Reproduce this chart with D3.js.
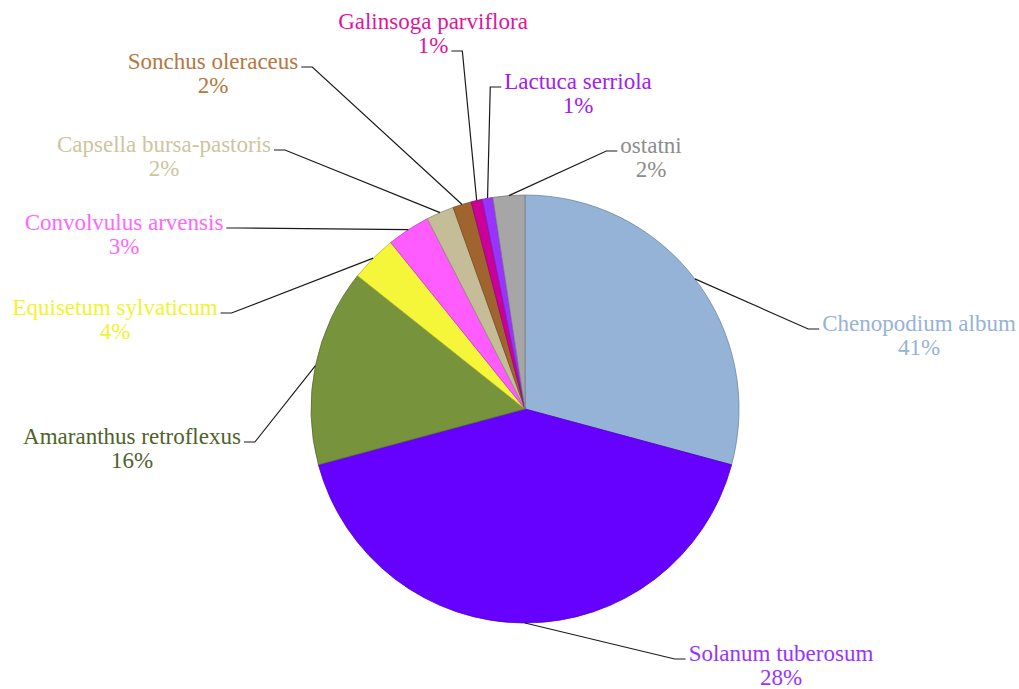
<!DOCTYPE html>
<meta charset="utf-8">
<title>Weeds pie</title>
<style>
    body { margin: 0; background: #fff; }
    svg { display: block; }
    .labels text {
        font-family: "Liberation Serif", "Times New Roman", serif;
        font-size: 23px;
        text-anchor: middle;
    }
    .leaders path {
        fill: none;
        stroke: #1a1a1a;
        stroke-width: 1.2;
    }
</style>
<svg width="1019" height="689"></svg>
<script src="https://d3js.org/d3.v7.min.js"></script>
<script>

    // data: slice sizes as drawn, and the percent texts printed next to them
    var species = ["Chenopodium album", "Solanum tuberosum", "Amaranthus retroflexus",
        "Equisetum sylvaticum", "Convolvulus arvensis", "Capsella bursa-pastoris",
        "Sonchus oleraceus", "Galinsoga parviflora", "Lactuca serriola", "ostatni"];
    var shares = [29.2, 41.6, 14.9, 3.5, 3.25, 2.1, 1.4, 0.85, 0.8, 2.4];
    var percentLabels = ["41%", "28%", "16%", "4%", "3%", "2%", "2%", "1%", "1%", "2%"];

    var sliceColors = ["#95b3d7", "#6600ff", "#77933c", "#f5f53a", "#ff5cff",
        "#c4bd97", "#a0652e", "#cc0099", "#9933ff", "#a6a6a6"];
    var textColors = ["#95b3d7", "#9933ff", "#4f6228", "#f2f230", "#ff66ff",
        "#cdc5a0", "#b5773d", "#e0149c", "#a020f0", "#8c8c8c"];

    //begin: layout conf.
    var svg = d3.select("svg"),
        cx = 525, cy = 409, radius = 214,
        lineGap = 24;

    // text centre x, first baseline y, side the leader leaves from, line carrying the tick
    var labelLayout = [
        {x: 919, y: 331, side: "left",  line: 0},
        {x: 781, y: 661, side: "left",  line: 0},
        {x: 132, y: 444, side: "right", line: 0},
        {x: 115, y: 315, side: "right", line: 0},
        {x: 124, y: 230, side: "right", line: 0},
        {x: 164, y: 152, side: "right", line: 0},
        {x: 213, y: 69,  side: "right", line: 0},
        {x: 433, y: 29,  side: "right", line: 1},
        {x: 578, y: 89,  side: "left",  line: 0},
        {x: 651, y: 153, side: "left",  line: 0}
    ];
    //end: layout conf.

    var pie = d3.pie().sort(null).startAngle(0).endAngle(2 * Math.PI)
        .value(function(d) { return d; });
    var arcs = pie(shares);

    var arc = d3.arc().innerRadius(0).outerRadius(radius);
    var rim = d3.arc().innerRadius(radius).outerRadius(radius);

    var chart = svg.append("g")
        .attr("transform", "translate(" + [cx, cy] + ")");

    chart.append("g")
        .attr("class", "slices")
        .selectAll("path")
        .data(arcs)
        .enter().append("path")
        .attr("d", arc)
        .attr("fill", function(d, i) { return sliceColors[i]; })
        .attr("stroke", function(d, i) { return d3.color(sliceColors[i]).darker(0.8); })
        .attr("stroke-width", 0.8);

    var labels = svg.append("g").attr("class", "labels");
    var leaders = svg.append("g").attr("class", "leaders");

    arcs.forEach(function(d, i) {
        var lay = labelLayout[i];
        var g = labels.append("g").attr("fill", textColors[i]);
        var t1 = g.append("text").attr("x", lay.x).attr("y", lay.y).text(species[i]);
        var t2 = g.append("text").attr("x", lay.x).attr("y", lay.y + lineGap).text(percentLabels[i]);

        // short horizontal tick next to the text, then straight to the slice rim
        var tickText = lay.line === 0 ? t1 : t2;
        var w = tickText.node().getComputedTextLength();
        var ty = (lay.line === 0 ? lay.y : lay.y + lineGap) - 2;
        var edge, elbow;
        if (lay.side === "left") {
            edge = lay.x - w / 2 - 3;
            elbow = edge - 11;
        } else {
            edge = lay.x + w / 2 + 3;
            elbow = edge + 11;
        }
        var p = rim.centroid(d);
        leaders.append("path")
            .attr("d", "M" + [edge, ty] + "L" + [elbow, ty] + "L" + [cx + p[0], cy + p[1]]);
    });

</script>
